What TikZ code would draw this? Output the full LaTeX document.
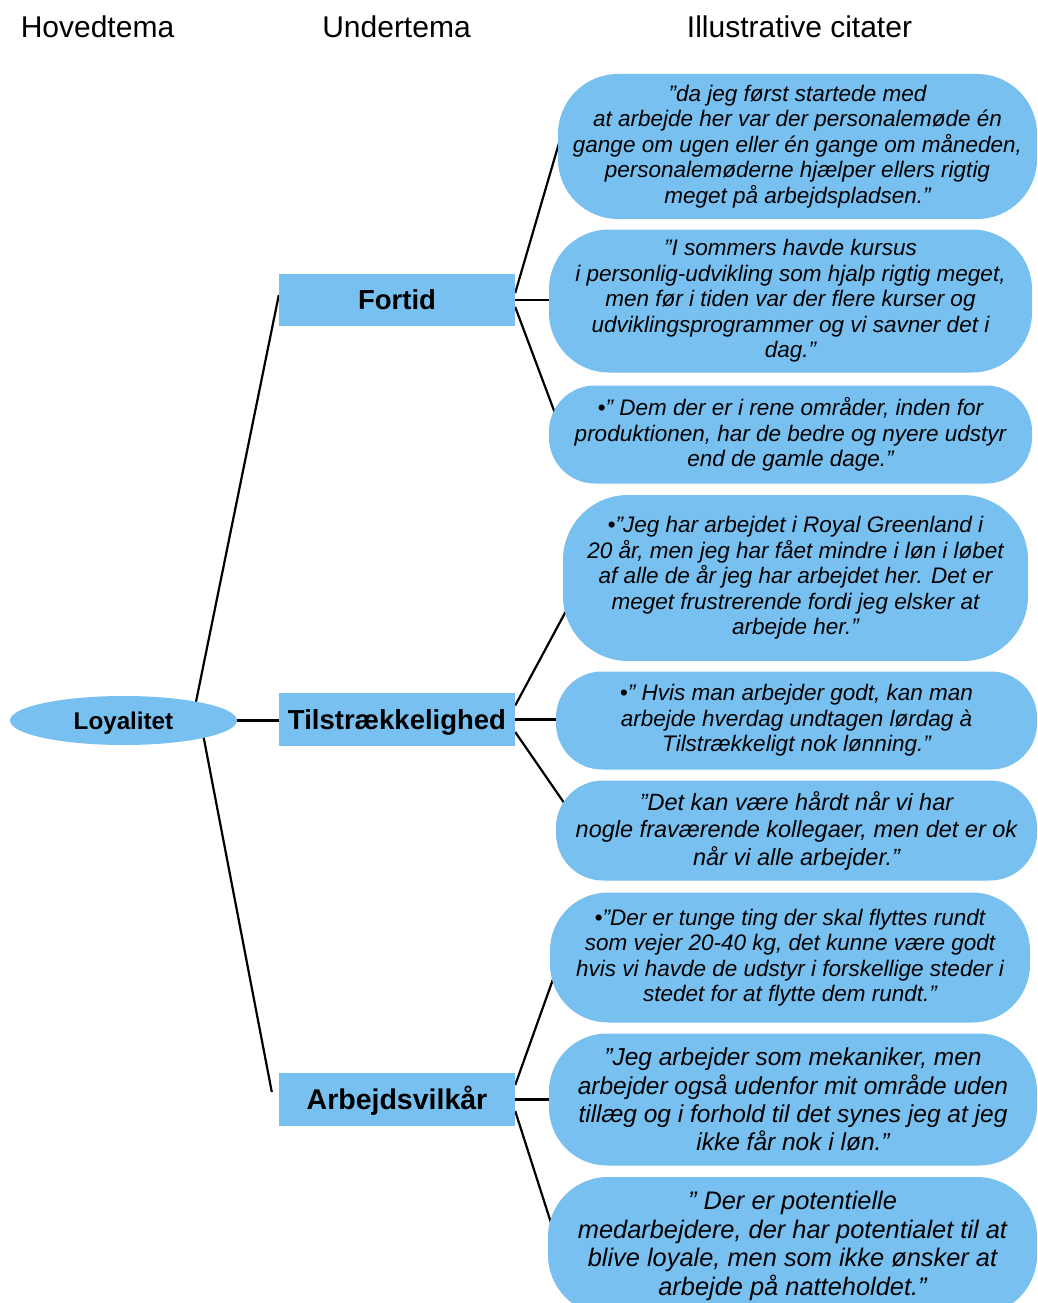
\documentclass[tikz,border=0pt]{standalone}
\usepackage{fontspec}
\setmainfont{Liberation Sans}
\usetikzlibrary{shapes.geometric}
\pgfdeclarelayer{background}
\pgfsetlayers{background,main}
\definecolor{boxblue}{RGB}{120,192,240}

\tikzset{
  head/.style={anchor=base, inner sep=0pt, font=\fontsize{30}{35}\selectfont},
  subbox/.style={rectangle, fill=boxblue, minimum width=236pt, minimum height=52pt,
    inner sep=0pt, text height=19.7pt, text depth=0pt,
    font=\bfseries\fontsize{27.5}{32}\selectfont},
  quote/.style={rectangle, fill=boxblue, align=center, inner sep=0pt,
    font=\itshape\fontsize{22.5}{25.5}\selectfont},
  link/.style={line width=2.2pt, black},
}

\begin{document}
\begin{tikzpicture}[x=1pt,y=-1pt]
\useasboundingbox (0,0) rectangle (1037,1303);

% column headings
\node[head] (h1) at (97.5,38) {Hovedtema};
\node[head] (h2) at (396.5,38) {Undertema};
\node[head] (h3) at (799.5,38) {Illustrative citater};

% main theme
\node[ellipse, fill=boxblue, minimum width=227pt, minimum height=49pt, inner sep=0pt,
  text height=17.3pt, text depth=0pt,
  font=\bfseries\fontsize{24.2}{28}\selectfont] (loy) at (123.5,720.5) {Loyalitet};

% sub themes
\node[subbox] (fort) at (397,300) {Fortid};
\node[subbox, minimum height=53pt] (tils) at (397,719.5) {Tilstrækkelighed};
\node[subbox, minimum height=53pt, font=\bfseries\fontsize{28.5}{33}\selectfont] (arb) at (397,1099.5) {Arbejdsvilkår};

% quotes
\node[quote, minimum width=479pt, minimum height=145pt, rounded corners=60pt] (q1) at (797.5,146.5)
  {”da jeg først startede med\\at arbejde her var der personalemøde én\\gange om ugen eller én gange om måneden,\\personalemøderne hjælper ellers rigtig\\meget på arbejdspladsen.”};
\node[quote, minimum width=483pt, minimum height=143pt, rounded corners=60pt] (q2) at (790.5,301)
  {”I sommers havde kursus\\i personlig-udvikling som hjalp rigtig meget,\\men før i tiden var der flere kurser og\\udviklingsprogrammer og vi savner det i\\dag.”};
\node[quote, minimum width=483pt, minimum height=98pt, rounded corners=46pt] (q3) at (790.5,434.5)
  {•” Dem der er i rene områder, inden for\\produktionen, har de bedre og nyere udstyr\\end de gamle dage.”};
\node[quote, minimum width=465pt, minimum height=166pt, rounded corners=65pt] (q4) at (795.5,578)
  {•”Jeg har arbejdet i Royal Greenland i\\20 år, men jeg har fået mindre i løn i løbet\\af alle de år jeg har arbejdet her. Det er\\meget frustrerende fordi jeg elsker at\\arbejde her.”};
\node[quote, minimum width=481pt, minimum height=98pt, rounded corners=46pt] (q5) at (796.5,720.5)
  {•” Hvis man arbejder godt, kan man\\arbejde hverdag undtagen lørdag à\\Tilstrækkeligt nok lønning.”};
\node[quote, minimum width=481pt, minimum height=100pt, rounded corners=47pt,
  font=\itshape\fontsize{23.5}{27.5}\selectfont] (q6) at (796.5,830.5)
  {”Det kan være hårdt når vi har\\nogle fraværende kollegaer, men det er ok\\når vi alle arbejder.”};
\node[quote, minimum width=480pt, minimum height=130pt, rounded corners=58pt] (q7) at (790,957.5)
  {•”Der er tunge ting der skal flyttes rundt\\som vejer 20-40 kg, det kunne være godt\\hvis vi havde de udstyr i forskellige steder i\\stedet for at flytte dem rundt.”};
\node[quote, minimum width=488pt, minimum height=132pt, rounded corners=58pt,
  font=\itshape\fontsize{24.5}{28.3}\selectfont] (q8) at (793,1099.5)
  {”Jeg arbejder som mekaniker, men\\arbejder også udenfor mit område uden\\tillæg og i forhold til det synes jeg at jeg\\ikke får nok i løn.”};
\node[quote, minimum width=489pt, minimum height=138pt, rounded corners=60pt,
  font=\itshape\fontsize{25.4}{28.7}\selectfont] (q9) at (792.5,1246)
  {” Der er potentielle\\medarbejdere, der har potentialet til at\\blive loyale, men som ikke ønsker at\\arbejde på natteholdet.”};

% connectors, drawn beneath the shapes so each one stops at the outline
\begin{pgfonlayer}{background}
  \draw[link] ([shift={(69,-1.5)}]loy.center) -- ([shift={(0,-5)}]fort.west);
  \draw[link] (loy.east) -- (loy.east -| tils.west);
  \draw[link] ([shift={(77,0.5)}]loy.center) -- ([shift={(-7,-7.5)}]arb.west);

  \draw[link] ([shift={(0,-7)}]fort.east) -- ([shift={(5,-16.5)}]q1.west);
  \draw[link] (fort.east) -- ([shift={(10,0)}]fort.east -| q2.west);
  \draw[link] ([shift={(0,7)}]fort.east) -- ([shift={(14,-0.5)}]q3.west);

  \draw[link] ([shift={(0,-14)}]tils.east) -- ([shift={(14.5,12)}]q4.west);
  \draw[link] (tils.east) -- ([shift={(10,0)}]tils.east -| q5.west);
  \draw[link] ([shift={(0,12.5)}]tils.east) -- ([shift={(27,-0.5)}]q6.west);

  \draw[link] ([shift={(0,-14.5)}]arb.east) -- ([shift={(8.3,7.5)}]q7.west);
  \draw[link] (arb.east) -- ([shift={(10,0)}]arb.east -| q8.west);
  \draw[link] ([shift={(0,11.5)}]arb.east) -- ([shift={(8.7,-6)}]q9.west);
\end{pgfonlayer}
\end{tikzpicture}
\end{document}
